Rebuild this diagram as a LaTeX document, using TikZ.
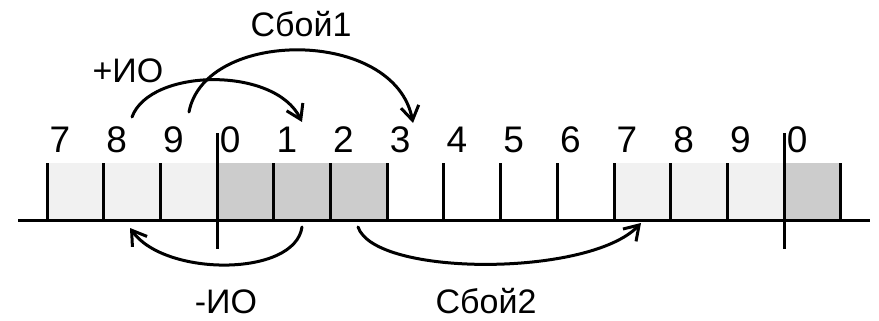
\documentclass[tikz,border=0pt]{standalone}
\usepackage{fontspec}
\setmainfont{Liberation Sans}
\usetikzlibrary{arrows.meta}
\definecolor{lightcell}{RGB}{241,241,241}
\definecolor{darkcell}{RGB}{204,204,204}
\begin{document}
\begin{tikzpicture}[x=1pt,y=-1pt,
  line width=3pt,
  lab/.style={inner sep=0pt, anchor=base, font=\fontsize{34}{40}\selectfont},
  digit/.style={inner sep=0pt, anchor=base, font=\fontsize{37}{44}\selectfont},
  jump/.style={-{Straight Barb[length=14pt,width=18pt,line width=3pt]}, line width=3pt, line cap=round, line join=round},
  ]
\useasboundingbox (0,0) rectangle (879,321);
% cell fills
\fill[lightcell] (47,163) rectangle (217.1,220);
\fill[darkcell] (217.1,163) rectangle (387.2,220);
\fill[lightcell] (614,163) rectangle (784.1,220);
\fill[darkcell] (784.1,163) rectangle (840.8,220);
% axis
\draw (18,220) -- (870,220);
% ticks
\foreach \i in {0,1,2,4,5,6,7,8,9,10,11,12,14}{
  \pgfmathsetmacro{\xx}{47+56.7*\i}
  \draw (\xx,163) -- (\xx,220);
}
\foreach \i in {3,13}{
  \pgfmathsetmacro{\xx}{47+56.7*\i}
  \draw (\xx,133) -- (\xx,249);
}
% digits
\foreach \d [count=\i from 0] in {7,8,9,0,1,2,3,4,5,6,7,8,9,0}{
  \pgfmathsetmacro{\xx}{47+56.7*\i+13}
  \node[digit] (d\i) at (\xx,152) {\d};
}
% labels
\node[lab] (pio) at (128,83) {+ИО};
\node[lab] (s1) at (301,37) {Сбой1};
\node[lab] (mio) at (226,313) {-ИО};
\node[lab] (s2) at (486,313) {Сбой2};
% arrow end points
\coordinate (a1) at (132,117);
\coordinate (b1) at (302,122);
\coordinate (a2) at (189,112);
\coordinate (b2) at (413,123);
\coordinate (a3) at (302,227);
\coordinate (b3) at (130,228);
\coordinate (a4) at (358,227);
\coordinate (b4) at (641,223);
% arrows
\draw[jump] (a1) .. controls (150,68) and (275,66) .. (b1);
\draw[jump] (a2) .. controls (205,28) and (395,28) .. (b2);
\draw[jump] (a3) .. controls (295,277) and (165,277) .. (b3);
\draw[jump] (a4) .. controls (375,277) and (590,277) .. (b4);
\end{tikzpicture}
\end{document}
